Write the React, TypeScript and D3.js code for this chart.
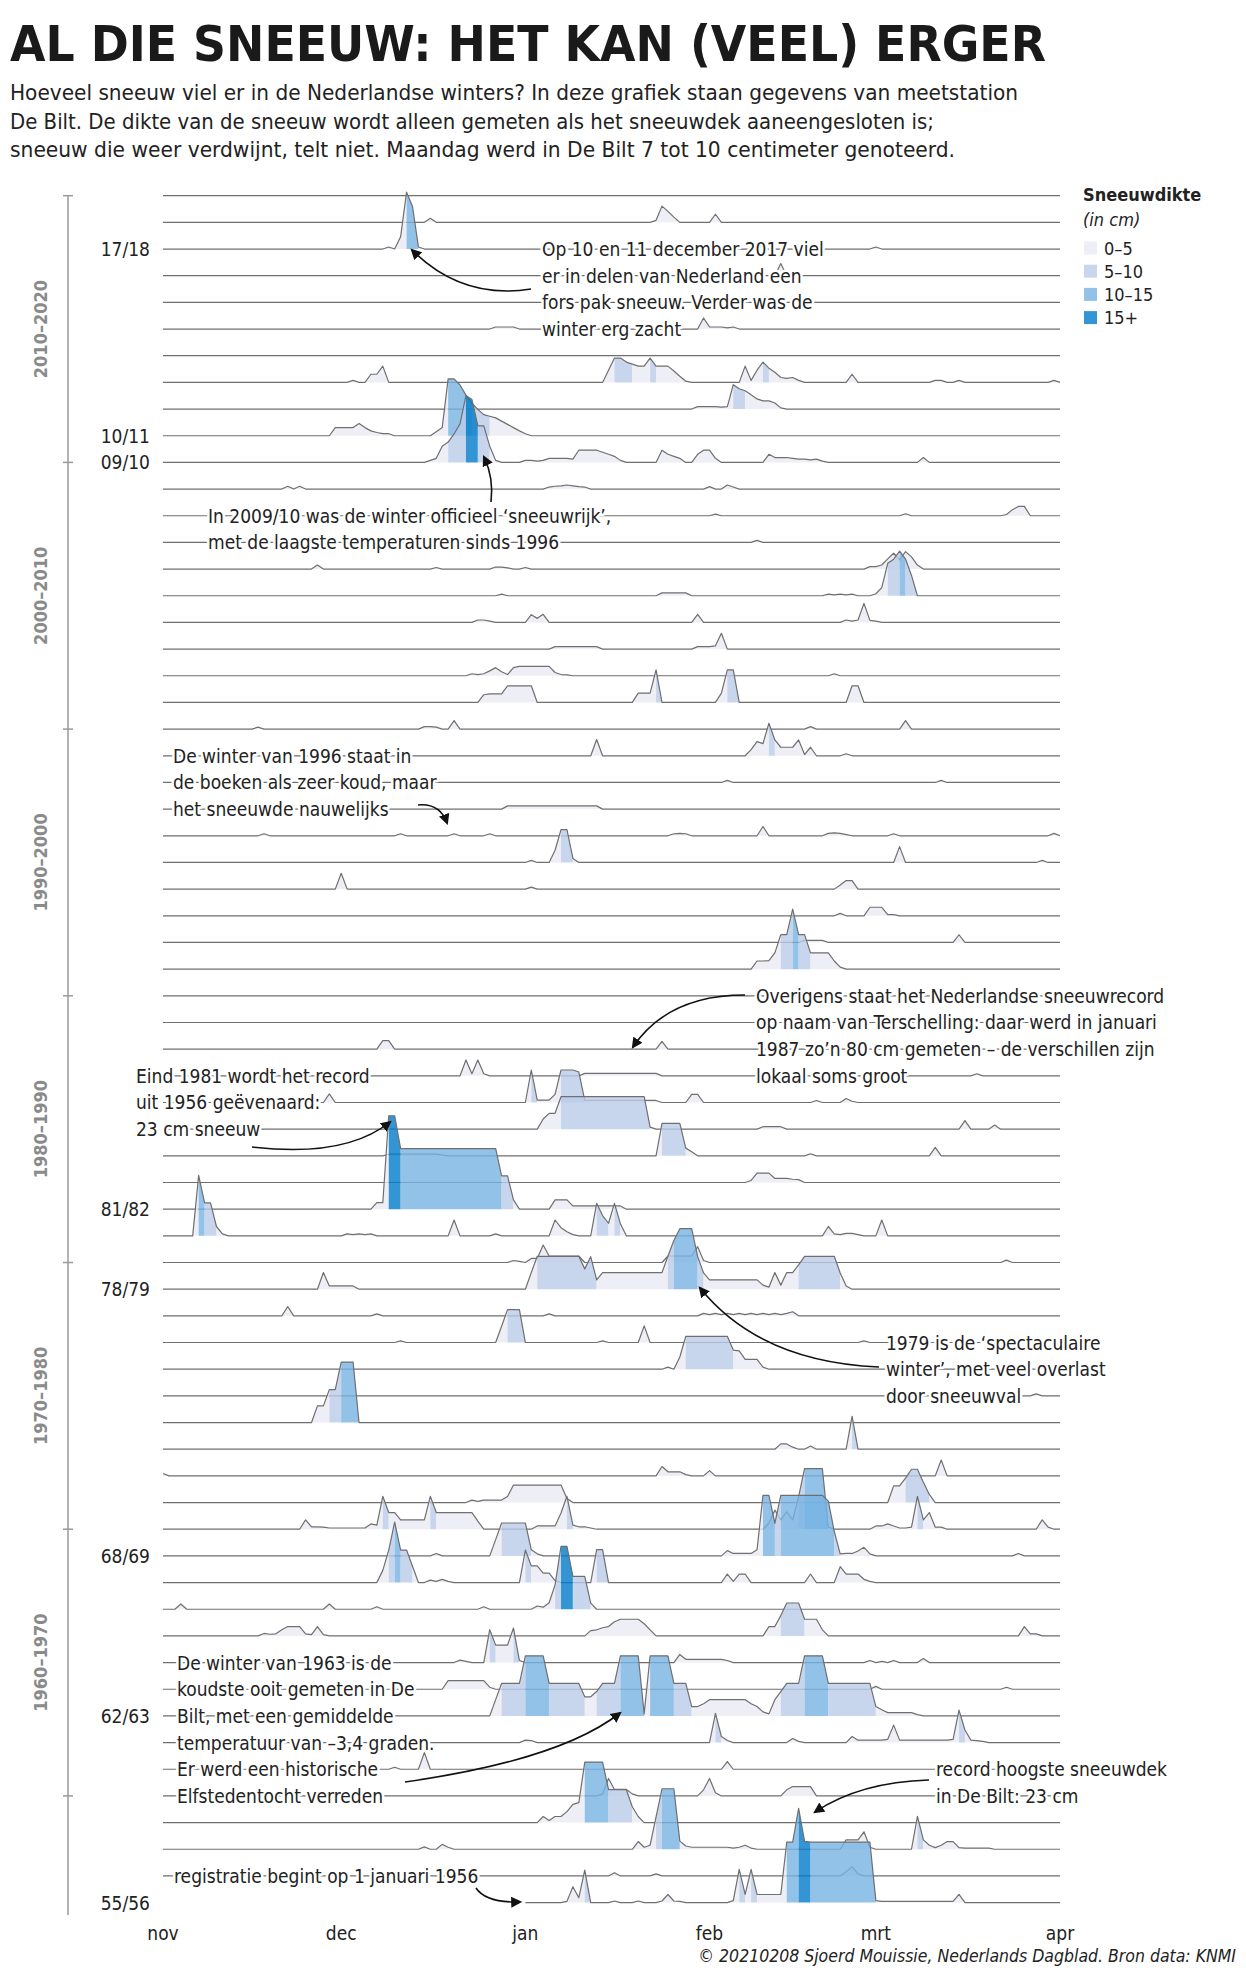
import * as d3 from "d3";

type Run = [number, number[]];

// winters from top to bottom
const winters = [
  "19/20", "18/19", "17/18", "16/17", "15/16", "14/15", "13/14", "12/13", "11/12", "10/11",
  "09/10", "08/09", "07/08", "06/07", "05/06", "04/05", "03/04", "02/03", "01/02", "00/01",
  "99/00", "98/99", "97/98", "96/97", "95/96", "94/95", "93/94", "92/93", "91/92", "90/91",
  "89/90", "88/89", "87/88", "86/87", "85/86", "84/85", "83/84", "82/83", "81/82", "80/81",
  "79/80", "78/79", "77/78", "76/77", "75/76", "74/75", "73/74", "72/73", "71/72", "70/71",
  "69/70", "68/69", "67/68", "66/67", "65/66", "64/65", "63/64", "62/63", "61/62", "60/61",
  "59/60", "58/59", "57/58", "56/57", "55/56",
];

// snow depth in cm, as [first day after 1 nov, daily values]; other days 0
const depth2010s: Run[][] = [
  [],
  [[45, [1]], [83, [0.5, 4, 2.7, 1.3]], [93, [2]]],
  [[38, [0.5, 0, 3, 14, 10.5, 0.5]], [120, [0.5]]],
  [[104, [3]]],
  [],
  [[56, [0.5, 0.5, 0.5, 0.5]], [91, [2.7, 0.5, 0.5, 0.5, 0.3, 0.5]]],
  [],
  [[32, [0.5]], [35, [2, 2, 4]], [75, [3, 6, 6, 5, 4.5, 4, 4, 6, 4, 4, 4, 2.8, 1.5, 0.3]],
    [98, [4, 0.5, 3, 5, 3.5, 2.5, 1.2, 1, 1.2, 0.5]], [116, [2]], [130, [0.5, 0.5]], [134, [0.5]], [150, [0.5]]],
  [[90, [0.6, 0.6, 0.6, 0.6, 0.5, 0.6, 6, 5, 4.5, 3.5, 2.5, 2, 2, 1.5, 0.3]]],
  [[29, [2, 2, 2, 2, 3, 2, 1.2, 0.8, 0.5, 0.5]],
    [46, [1, 2, 14, 14, 12.5, 10, 8, 6.5, 5.2, 4.8, 4.4, 3.6, 2.8, 2, 1.2, 0.5]]],
];

const depth2000s: Run[][] = [
  [[45, [0.5, 1, 4, 5, 7, 9.5, 16.5, 15.5, 9, 9, 4, 0.5]],
    [61, [0.5, 0.5, 0.3, 0.5, 1, 1, 1, 1, 0.8, 3, 3, 3, 3, 2.5, 2, 1.5, 0.5]],
    [84, [3, 2, 1.5, 1]], [90, [2, 3, 3, 1]], [102, [2, 1.2, 1.2, 1.2, 1, 0.8, 0.8, 0.6, 0.8, 0.3]], [128, [1.2]]],
  [[21, [0.7, 0, 0.7]], [65, [0.5, 0.7, 0.8, 1, 0.8, 0.6, 0.5]], [92, [0.6]], [95, [1, 0.5]]],
  [[93, [0.4]], [125, [0.5]], [142, [0.3, 1.5, 2.3, 2.3]]],
  [[100, [0.5]]],
  [[26, [1]], [46, [0.4]], [56, [0.5, 0.5, 0.3]], [61, [0.4]], [119, [0.6, 0.6, 1, 2.5, 3.9, 2.3, 4.3, 3, 1]]],
  [[57, [0.4]], [84, [0.7, 0.7, 0.7, 0.7, 0.7]], [112, [0.4, 0.2, 0.4, 0.2, 0.4]], [120, [0.5, 2, 8, 9, 11, 9, 5]]],
  [[53, [0.6, 0.6, 0.3]], [62, [1.9, 1, 2]], [90, [2]], [115, [0.6, 0.3, 0.6, 4.7, 0.5, 0.3]]],
  [[66, [0.6, 0.6, 0.6, 0.6, 0.6, 0.6, 0.6, 0.6]], [90, [0.6, 0.6, 0.6, 0.8, 3.9]]],
  [[52, [0.5, 0.3, 0.5, 1.2, 2, 1, 0.3, 2, 2.3, 2.3, 2.3, 2.3, 2.3, 2.3, 0.8, 0.3, 0.2]], [113, [0.5]]],
  [[54, [1.9, 2.1, 2.1, 2.1, 4.1, 4.1, 4.1, 4.1, 4.1]], [80, [2.3, 2.3, 2.3, 8]], [94, [2.3, 8, 8]], [116, [4.1, 4.1]]],
];

const depth1990s: Run[][] = [
  [[16, [0.5]], [44, [0.6, 0.6, 0.5]], [49, [2.1]], [109, [0.6]], [125, [2.1]]],
  [[73, [4]], [99, [1.5, 3.5, 3, 8, 3.9, 2.1, 2.1, 2.1, 3.9, 0.3, 2.1]], [115, [0.5]]],
  [[95, [0.5]], [131, [0.5]]],
  [[58, [0.8, 0.8, 0.8, 0.8, 0.8, 0.8, 0.8, 0.8, 0.8, 0.8, 0.8, 0.8, 0.8, 0.8, 0.8, 0.8]]],
  [[17, [0.5]], [40, [0.5]], [49, [0.5]], [55, [0.5]], [86, [0.5, 0.6, 0.5]], [101, [2.3]],
    [112, [0.6, 0.7, 0.6, 0.3]], [123, [0.5]], [150, [0.6]]],
  [[62, [0.5]], [66, [3, 8.1, 8.1, 1]], [124, [3.9]], [148, [0.5]]],
  [[30, [3.9]], [62, [0.5]], [114, [1, 2.1, 2.1]]],
  [[114, [0.6]], [119, [2.1, 2.1, 2.1, 0.3, 0.3]]],
  [[108, [0.5, 0.5, 0.5, 0.5]], [134, [1.9]]],
  [[100, [2, 2, 2.1, 4, 8.5, 8.5, 14.8, 8.5, 8.5, 4, 4, 4, 4, 2, 0.5]]],
];

const depth1980s: Run[][] = [
  [],
  [],
  [[37, [2.1, 2.1]], [84, [1.9]]],
  [[51, [3.9, 0.5, 3.9, 0.5]], [71, [0.6, 0.6, 0.6, 0.6, 0.6, 0.6, 0.6, 0.6, 0.6, 0.6, 0.6, 0.6, 0.6]], [137, [0.5]]],
  [[28, [2.1]], [62, [8, 0.6, 0.6, 0.6, 2, 8, 8, 8, 7.5, 0.5, 0.5, 0.5, 0.5, 0.5, 0.5, 0.5, 0.5, 0.5, 0.5, 0.5, 0.5, 0.5]],
    [89, [2, 2]], [110, [0.5]], [115, [1, 0.3]]],
  [[64, [2.5, 3.9, 3.9, 8, 8, 8, 8, 8, 8, 8, 8, 8, 8, 8, 8, 8, 8, 8, 0.5]], [101, [0.6, 0.6, 0.6, 0.6]], [135, [2.1]], [140, [1]]],
  [[38, [0.4, 0.4, 0.4, 0.4, 0.4, 0.4, 0.4, 0.4, 0.4, 0.2]], [84, [8, 8, 8, 8, 1.9, 1]], [109, [0.5]], [130, [2.1]]],
  [[99, [0.5, 2.3, 2.3, 2.3, 1, 1, 1, 0.8, 0.7]]],
  [[36, [1.6, 1.6, 23, 23, 14.9, 14.9, 14.9, 14.9, 14.9, 14.9, 14.9, 14.9, 14.9, 14.9, 14.9, 14.9, 14.9, 14.9, 14.9, 14.9, 14.9, 8.2, 8.2, 2.3]],
    [66, [2.3, 2.3, 2.3, 0.8, 0.8, 0.8, 0.8, 0.8, 0.8, 0.8, 0.8, 0.8]]],
  [[6, [14.9, 8.1, 8.1, 2.3, 0.5]], [31, [0.5, 0.3, 0.5, 0.3, 0.5]], [49, [3.9]], [56, [0.5]], [66, [3.9, 2, 1, 0.3]],
    [73, [8, 5, 3.1, 8, 3]], [112, [2.3, 0.5, 0.3, 0.6, 0.6, 0.3]], [121, [3.9]]],
];

const depth1970s: Run[][] = [
  [[59, [0.5, 0.3, 0, 1, 1, 4.3, 1.6, 1.6, 1.6, 1.6, 1.6, 1.6]], [85, [1.6, 1.6, 1.6, 1.6, 1.6, 3.9, 0.5]], [142, [0.6]]],
  [[27, [4.1, 0.8, 0.8, 0.8, 0.8, 0.8]],
    [62, [4.1, 8.1, 8.1, 8.1, 8.1, 8.1, 8.1, 8.1, 8.1, 5, 8, 2.3, 4.1, 4.1, 4.1, 4.1, 4.1, 4.1, 4.1, 4.1, 4.1, 4.1, 4.1,
      8.1, 12, 14.9, 14.9, 14.9, 8, 4, 2.3, 2.3, 2.3, 2.3, 2.3, 2.3, 2.3, 2.3, 2.3, 1, 0.5, 4.1, 1, 4.1, 4.1, 6,
      8.1, 8.1, 8.1, 8.1, 8.1, 8.1, 4, 0.8]]],
  [[21, [2.3]], [36, [0.5]], [65, [0.5]], [91, [0.6, 0.3, 0.6, 0.3, 0.6, 0.3, 0.6, 0.3, 0.6, 0.3, 0.6, 0.3, 0.6, 0.3, 0.6, 1]]],
  [[40, [0.4]], [57, [4, 8.1, 8.1, 8.1]], [74, [0.4]], [81, [4.1]], [118, [0.4]]],
  [[85, [0.5, 0, 3, 8.1, 8.1, 8.1, 8.1, 8.1, 8.1, 8.1, 8.1, 4.7, 4.5, 2.4, 2.4, 2.4, 0.5]]],
  [[147, [0.5]]],
  [[26, [4.1, 4.1, 8.1, 8.1, 14.9, 14.9, 14.9]]],
  [[104, [1.3, 1.3, 0.5]], [109, [0.8]], [116, [8.1]]],
  [[0, [0.6]], [84, [2.3, 1, 1, 1, 0.3]], [92, [1.3]], [131, [3.9]]],
  [[52, [0.6, 0.3, 0.6, 0.6, 0.6, 0.6, 1.5, 4.3, 4.3, 4.3, 4.3, 4.3, 4.3, 4.3, 4.3, 4.3, 1]], [123, [4.1, 4.1, 6, 8.2, 8.2, 5, 2]]],
];

const depth1960s: Run[][] = [
  [[24, [2.3, 0.6, 0.6, 0.5, 0.3, 0.3, 0.3, 0.3, 0.3, 0.3, 0.3, 1.3, 1, 8.1, 4.1, 4.1, 2.3, 2.3, 2.3, 2.3, 2.3, 8.1,
    4.1, 4.1, 4.1, 4.1, 4.1, 4.1, 4.1, 2]],
    [63, [0.8, 0.8, 0.8, 0.8, 4, 8.1, 1, 0.6, 0.6, 0.3]], [102, [1.5, 4.7, 2.3, 4.3, 2.3, 8, 14.9, 14.9, 14.9, 14.9, 0.5]],
    [120, [0.8, 0.8, 1.3, 0.8, 0.3, 0.3, 0.5, 8.1, 2.3, 4.1, 0.5, 0.5]], [148, [2.3, 0.5]]],
  [[46, [0.6]], [56, [4, 8.1, 8.1, 8.1, 8.1, 8.1, 1.5, 0.5]],
    [95, [1.3, 0.6, 0.6, 0.6, 0.6, 1.5, 14.9, 14.9, 8, 14.9, 14.9, 14.9, 14.9, 14.9, 14.9, 14.9, 14.9, 13.5, 6, 0.5, 0.6, 0.6, 1.2, 2.1, 0.5]],
    [144, [0.6]]],
  [[37, [3, 8, 14.9, 8, 8, 4]], [45, [0.6, 0.3, 0.8, 0.3]], [61, [8, 4.1, 4.1, 2.3, 2.3, 0.5]], [73, [8.1, 8.1]],
    [95, [2.1, 0.3, 2.1, 2.1]], [109, [2.1]], [114, [3.9, 2.1, 2.1, 2.1, 0.8, 0.3]]],
  [[3, [1.3]], [28, [1.3]], [36, [0.6]], [54, [0.6]], [63, [0.8, 0.5, 1.6, 6, 15.5, 15.5, 8.1, 8.1, 8.1, 1.5]]],
  [[17, [0.6, 0.4, 0.5, 1.5, 2.3, 2.3, 2.3, 0.5, 0.3, 2.3, 0.3]], [72, [1.3, 1.5, 2, 2.3, 3.5, 4.1, 4.1, 4.1, 4.1, 3, 1.5]],
    [102, [2.3, 2.3, 5, 8.1, 8.1, 8.1, 4.1, 4.1, 4.1, 1.5]], [145, [2.3, 0.5, 0.5]]],
  [[50, [0.6, 0.3]], [55, [8.1, 4.3, 4.3, 4.3, 8.5, 0.5]], [87, [2, 0.8, 0.8, 0.8, 0.8, 0.8, 0.8, 0.8, 0.5]],
    [119, [0.5]], [121, [0.3]], [123, [0.5]], [128, [1]]],
  [[48, [2.1, 2.1, 2.1, 2.1, 2.1, 2.1, 2.1, 0.5]], [120, [0.7]], [142, [0.5]]],
  [[56, [4, 8, 8, 8, 8, 14.8, 14.8, 14.8, 14.8, 8, 8, 8, 8, 8, 8, 4.7, 4.7, 6, 8, 8, 8, 14.8, 14.8, 14.8, 14.8, 0.5,
    14.8, 14.8, 14.8, 14.8, 8, 8, 8, 2.3, 2.3, 3, 4, 4, 4, 4, 4, 4, 4, 3, 2.3, 1, 0.5, 4, 6, 8, 8, 8,
    14.8, 14.8, 14.8, 14.8, 8, 8, 8, 8, 8, 8, 8, 8, 2.3, 1.5, 0.8, 0.8, 0.8, 0.8, 0.8, 0.3]]],
  [[61, [0.6, 0.5]], [93, [7.2, 1.5, 0.5]], [106, [1, 0.3]],
    [116, [1.5, 0.6, 0.6, 0.6, 0.6, 0.6, 0.8, 4.3, 0.6, 0.6, 0.6, 0.6, 0.6, 0.6, 0.6, 0.6, 0.6, 0.8, 8, 3.1, 0.6, 0.5, 0.3]]],
  [[39, [0.5]], [44, [4.1]], [95, [1.9]]],
];

const depth1950s: Run[][] = [
  [[74, [0.5, 4.3, 1.6, 1.6, 1.6, 0.5]], [91, [1.5, 4.3, 0.8]], [105, [1.5, 2.3, 2.3, 2.3, 2.3]]],
  [[64, [1.5, 0.5, 1.5, 1.5, 2.7, 4.5, 4.9, 14.9, 14.9, 14.9, 14.9, 8.1, 8.1, 8.1, 8.1, 3.9, 1.5]]],
  [[44, [0.6]], [47, [1.2, 0.5]], [80, [1.9, 0.5, 1, 8, 14.9, 14.9, 14.9, 2, 0.8, 0.5, 0.5, 0.5, 0.5, 0.5, 0.5, 0.5, 0.3, 0.5, 1, 0.3]],
    [115, [2.3, 2.3, 2.3, 4.3, 0.5]], [127, [8.1, 2.3, 1, 0.4, 1, 1.9, 1.9, 0.4, 0.3, 0.3, 0.3, 0.3, 0.3]]],
  [[76, [0.8]], [83, [0.5]], [115, [1, 2.3, 0.5]]],
  [[68, [0.3, 3.9, 1.2, 8]], [76, [0.4]], [80, [0.4]], [84, [0.4, 2, 0.4, 0.3]],
    [96, [0.5, 8.2, 2, 8.2, 2, 2, 2, 2, 2, 14.9, 14.9, 23.2, 15.1, 14.9, 14.9, 14.9, 14.9, 14.9, 14.9, 14.9, 14.9, 14.9, 14.9, 14.9,
      0.5, 0.3, 0.3, 0.3, 0.3, 0.3, 0.3, 0.3, 0.3, 0.3, 0.3, 0.3, 0.3, 0.3, 2]]],
];

// registration in De Bilt starts on 1 January 1956
const recordStartWinter = "55/56";
const recordStartDay = 61;

const months = ["nov", "dec", "jan", "feb", "mrt", "apr"];
const monthStarts = [0, 30, 61, 92, 120, 151];

const labelledWinters = ["17/18", "10/11", "09/10", "81/82", "78/79", "68/69", "62/63", "55/56"];

const decades = ["2010–2020", "2000–2010", "1990–2000", "1980–1990", "1970–1980", "1960–1970", ""];
const decadeStarts = ["19/20", "09/10", "99/00", "89/90", "79/80", "69/70", "59/60"];

const legendLabels = ["0–5", "5–10", "10–15", "15+"];
const legendThresholds = [5, 10, 15];
// colours as seen on white; the fills are drawn at 80% opacity
const legendColours = ["#eeeef6", "#c8d6ee", "#92c2e8", "#3395d3"];
const fillColours = ["#eaeaf4", "#bacce9", "#77b3e2", "#007ac8"];
const FILL_OPACITY = 0.8;

const notes = [
  { x: 542, rows: ["17/18", "16/17", "15/16", "14/15"],
    lines: ["Op 10 en 11 december 2017 viel", "er in delen van Nederland een", "fors pak sneeuw. Verder was de", "winter erg zacht"],
    arrow: "M531,289 Q462,300 412,250" },
  { x: 208, rows: ["07/08", "06/07"],
    lines: ["In 2009/10 was de winter officieel ‘sneeuwrijk’,", "met de laagste temperaturen sinds 1996"],
    arrow: "M491,502 Q494,478 484,457" },
  { x: 173, rows: ["98/99", "97/98", "96/97"],
    lines: ["De winter van 1996 staat in", "de boeken als zeer koud, maar", "het sneeuwde nauwelijks"],
    arrow: "M418,805 Q440,803 447,823" },
  { x: 756, rows: ["89/90", "88/89", "87/88", "86/87"],
    lines: ["Overigens staat het Nederlandse sneeuwrecord", "op naam van Terschelling: daar werd in januari",
      "1987 zo’n 80 cm gemeten – de verschillen zijn", "lokaal soms groot"],
    arrow: "M745,995 Q668,995 633,1047" },
  { x: 136, rows: ["86/87", "85/86", "84/85"],
    lines: ["Eind 1981 wordt het record", "uit 1956 geëvenaard:", "23 cm sneeuw"],
    arrow: "M252,1147 Q345,1158 390,1122" },
  { x: 886, rows: ["76/77", "75/76", "74/75"],
    lines: ["1979 is de ‘spectaculaire", "winter’, met veel overlast", "door sneeuwval"],
    arrow: "M879,1367 Q760,1362 700,1288" },
  { x: 177, rows: ["64/65", "63/64", "62/63", "61/62", "60/61", "59/60"],
    lines: ["De winter van 1963 is de", "koudste ooit gemeten in De", "Bilt, met een gemiddelde",
      "temperatuur van –3,4 graden.", "Er werd een historische", "Elfstedentocht verreden"],
    arrow: "M405,1782 Q560,1760 620,1713" },
  { x: 936, rows: ["60/61", "59/60"],
    lines: ["record hoogste sneeuwdek", "in De Bilt: 23 cm"],
    arrow: "M929,1780 Q860,1782 815,1812" },
  { x: 174, rows: ["56/57"],
    lines: ["registratie begint op 1 januari 1956"],
    arrow: "M476,1888 Q486,1903 520,1902" },
];

const FONT = "'DejaVu Sans Condensed', 'DejaVu Sans', sans-serif";
const W = 1246;
const H = 1974;

const x = d3.scaleLinear().domain([0, 151]).range([163, 1060]);
const y = d3.scalePoint<string>().domain(winters).range([195.7, 1902.6]);
const h = d3.scaleLinear().domain([0, 23]).range([0, 93.4]);
const fill = d3.scaleThreshold<number, string>().domain(legendThresholds).range(fillColours);

const runs = [...depth2010s, ...depth2000s, ...depth1990s, ...depth1980s, ...depth1970s, ...depth1960s, ...depth1950s];

const series = winters.map((w, i) => {
  const v: (number | null)[] = d3.range(152).map((d) =>
    w === recordStartWinter && d < recordStartDay ? null : 0);
  for (const [start, vals] of runs[i]) vals.forEach((c, k) => { v[start + k] = c; });
  return v;
});

// group the day strips of one class into one area
function strips(v: (number | null)[]) {
  const out: { c: string; pts: [number, number][] }[] = [];
  let cur: { c: string; pts: [number, number][] } | null = null;
  for (let d = 0; d < 151; d++) {
    const a = v[d], b = v[d + 1];
    if (a == null || b == null || (a === 0 && b === 0)) { cur = null; continue; }
    const c = fill(a);
    if (!cur || cur.c !== c) { cur = { c, pts: [[d, a]] }; out.push(cur); }
    cur.pts.push([d + 1, b]);
  }
  return out;
}

export default function App() {
  return (
    <svg width={W} height={H} style={{ position: "absolute", left: 0, top: 0, background: "#fff" }}
      fontFamily={FONT}>
      <defs>
        <marker id="head" viewBox="0 0 10 10" refX="8" refY="5" markerWidth="11" markerHeight="11"
          orient="auto" markerUnits="userSpaceOnUse">
          <path d="M0,0 L10,5 L0,10 Z" fill="#111" />
        </marker>
      </defs>

      <text x={10} y={61} fontSize={49} fontWeight="bold" fill="#1a1a1a" textLength={1036}
        lengthAdjust="spacingAndGlyphs">AL DIE SNEEUW: HET KAN (VEEL) ERGER</text>
      <g fontSize={21} fill="#222">
        <text x={10} y={100} textLength={1008} lengthAdjust="spacingAndGlyphs">Hoeveel sneeuw viel er in de Nederlandse winters? In deze grafiek staan gegevens van meetstation</text>
        <text x={10} y={128.5} textLength={924} lengthAdjust="spacingAndGlyphs">De Bilt. De dikte van de sneeuw wordt alleen gemeten als het sneeuwdek aaneengesloten is;</text>
        <text x={10} y={157} textLength={945} lengthAdjust="spacingAndGlyphs">sneeuw die weer verdwijnt, telt niet. Maandag werd in De Bilt 7 tot 10 centimeter genoteerd.</text>
      </g>

      {/* decade axis */}
      <g stroke="#9a9a9a" strokeWidth={1.5}>
        <line x1={68} x2={68} y1={y(decadeStarts[0])} y2={1915} />
        {decadeStarts.map((w) => (
          <line key={w} x1={63} x2={73} y1={y(w)} y2={y(w)} />
        ))}
      </g>
      <g fontSize={18} fontWeight="bold" fill="#8a8a8a" textAnchor="middle">
        {decades.map((label, i) => {
          if (!label) return null;
          const mid = ((y(decadeStarts[i]) ?? 0) + (y(decadeStarts[i + 1]) ?? 0)) / 2;
          return (
            <text key={label} transform={`translate(40,${mid}) rotate(-90)`} dominantBaseline="central">{label}</text>
          );
        })}
      </g>

      {/* ridges */}
      {winters.map((w, i) => {
        const base = y(w) ?? 0;
        const v = series[i];
        const area = d3.area<[number, number]>()
          .x((p) => x(p[0]))
          .y0(base)
          .y1((p) => base - h(p[1]));
        const line = d3.line<number | null>()
          .defined((c) => c != null)
          .x((_, d) => x(d))
          .y((c) => base - h(c ?? 0));
        return (
          <g key={w}>
            {strips(v).map((s, k) => (
              <path key={k} d={area(s.pts) ?? undefined} fill={s.c} fillOpacity={FILL_OPACITY} />
            ))}
            <path d={line(v) ?? undefined} fill="none" stroke="#6f6f6f" strokeWidth={1.2} strokeLinejoin="round" />
          </g>
        );
      })}

      {/* row labels */}
      <g fontSize={19} fill="#222" textAnchor="end">
        {labelledWinters.map((w) => (
          <text key={w} x={150} y={y(w)} dominantBaseline="central">{w}</text>
        ))}
      </g>

      {/* annotations */}
      <g fontSize={19} fill="#222" stroke="#fff" strokeWidth={5} strokeLinejoin="round" style={{ paintOrder: "stroke" }}>
        {notes.map((n) => n.lines.map((t, k) => (
          <text key={n.x + t} x={n.x} y={y(n.rows[k])} dominantBaseline="central">{t}</text>
        )))}
      </g>
      <g fill="none" stroke="#111" strokeWidth={1.6}>
        {notes.map((n) => (
          <path key={n.arrow} d={n.arrow} markerEnd="url(#head)" />
        ))}
      </g>

      {/* month axis */}
      <g fontSize={19} fill="#222" textAnchor="middle">
        {months.map((m, i) => (
          <text key={m} x={x(monthStarts[i])} y={1940}>{m}</text>
        ))}
      </g>

      {/* legend */}
      <g fill="#222">
        <text x={1083} y={201} fontSize={18} fontWeight="bold">Sneeuwdikte</text>
        <text x={1083} y={226} fontSize={18} fontStyle="italic">(in cm)</text>
        {legendLabels.map((l, i) => (
          <g key={l} transform={`translate(1084,${248 + i * 23.2})`}>
            <rect x={0} y={-6.5} width={13} height={13} fill={legendColours[i]} />
            <text x={20} y={0} fontSize={18} dominantBaseline="central">{l}</text>
          </g>
        ))}
      </g>

      <text x={1236} y={1962} fontSize={17.5} fontStyle="italic" fill="#222" textAnchor="end">© 20210208 Sjoerd Mouissie, Nederlands Dagblad. Bron data: KNMI</text>
    </svg>
  );
}
